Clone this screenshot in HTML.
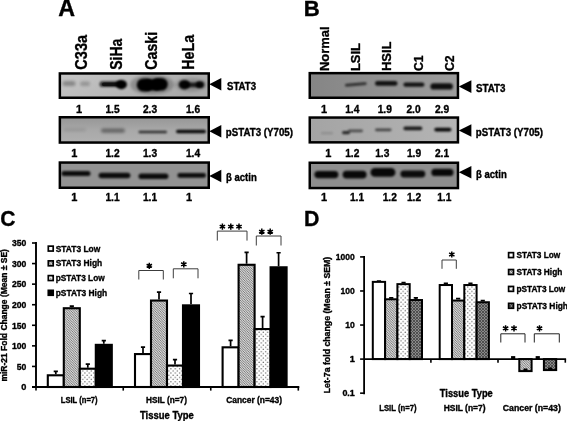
<!DOCTYPE html>
<html><head><meta charset="utf-8"><title>Figure</title>
<style>html,body{margin:0;padding:0;background:#fff;}body{width:567px;height:421px;overflow:hidden;}svg{display:block;filter:grayscale(1);}text{font-family:"Liberation Sans",sans-serif;stroke:#000;stroke-width:0.35px;stroke-linejoin:round;}</style>
</head><body>
<svg width="567" height="421" viewBox="0 0 567 421">
<defs>
<filter id="b1" x="-30%" y="-100%" width="160%" height="300%"><feGaussianBlur stdDeviation="1.25"/></filter>
<filter id="b2" x="-30%" y="-100%" width="160%" height="300%"><feGaussianBlur stdDeviation="1.6"/></filter>
<filter id="b0" x="-30%" y="-100%" width="160%" height="300%"><feGaussianBlur stdDeviation="0.7"/></filter>
<pattern id="hatch" width="2.4" height="2.4" patternUnits="userSpaceOnUse"><rect width="2.4" height="2.4" fill="#d8d8d8"/><path d="M-1,-1 L3.4,3.4 M-1,1.4 L1,3.4 M1.4,-1 L3.4,1" stroke="#5a5a5a" stroke-width="0.75"/></pattern>
<pattern id="dots" width="4.3" height="4.3" patternUnits="userSpaceOnUse"><rect width="4.3" height="4.3" fill="#fff"/><circle cx="1.1" cy="1.1" r="0.72" fill="#6a6a6a"/><circle cx="3.25" cy="3.25" r="0.72" fill="#6a6a6a"/></pattern>
<pattern id="dark" width="3" height="3" patternUnits="userSpaceOnUse"><rect width="3" height="3" fill="#8a8a8a"/><path d="M-1,-1 L4,4 M-1,2 L1,4 M2,-1 L4,1 M4,-1 L-1,4" stroke="#4a4a4a" stroke-width="0.9"/></pattern>
<linearGradient id="gA1" x1="0" y1="0" x2="1" y2="0.3"><stop offset="0" stop-color="#c6c6c6"/><stop offset="0.6" stop-color="#b6b6b6"/><stop offset="1" stop-color="#a8a8a8"/></linearGradient>
<linearGradient id="gA2" x1="0" y1="0" x2="0" y2="1"><stop offset="0" stop-color="#969696"/><stop offset="0.5" stop-color="#a8a8a8"/><stop offset="1" stop-color="#b0b0b0"/></linearGradient>
<linearGradient id="gB1" x1="0" y1="0" x2="1" y2="0"><stop offset="0" stop-color="#858585"/><stop offset="0.55" stop-color="#929292"/><stop offset="1" stop-color="#9c9c9c"/></linearGradient>
<linearGradient id="gB2" x1="0" y1="0" x2="1" y2="0"><stop offset="0" stop-color="#a4a4a4"/><stop offset="1" stop-color="#b4b4b4"/></linearGradient>
</defs>
<rect width="567" height="421" fill="#fff"/>
<text x="58.3" y="15.9" font-size="23" font-weight="bold" textLength="16.8" lengthAdjust="spacingAndGlyphs" fill="#000" stroke="#000" stroke-width="0.7">A</text>
<text x="303.8" y="15.9" font-size="22.3" font-weight="bold" textLength="16" lengthAdjust="spacingAndGlyphs" fill="#000" stroke="#000" stroke-width="0.7">B</text>
<text x="0.2" y="226.1" font-size="22.4" font-weight="bold" textLength="15.2" lengthAdjust="spacingAndGlyphs" fill="#000" stroke="#000" stroke-width="0.7">C</text>
<text x="303.9" y="225.8" font-size="22.2" font-weight="bold" textLength="15.4" lengthAdjust="spacingAndGlyphs" fill="#000" stroke="#000" stroke-width="0.7">D</text>
<clipPath id="c58_72"><rect x="59.85" y="73.45" width="148.9" height="24.299999999999997"/></clipPath>
<rect x="59.85" y="73.45" width="148.9" height="24.299999999999997" fill="url(#gA1)"/>
<g clip-path="url(#c58_72)">
<rect x="62.5" y="81.1" width="13.0" height="5.0" rx="2.5" fill="#000" opacity="0.3" filter="url(#b2)"/>
<rect x="80" y="81.6" width="10" height="4.4" rx="2.2" fill="#000" opacity="0.22" filter="url(#b2)"/>
<rect x="99.5" y="81.3" width="23.5" height="5.8" rx="2.9" fill="#000" opacity="0.72" filter="url(#b1)"/>
<rect x="102" y="82.60000000000001" width="18" height="3.6" rx="1.8" fill="#000" opacity="0.65" filter="url(#b0)"/>
<ellipse cx="121.4" cy="84.6" rx="5.6" ry="4.6" fill="#000" opacity="1" filter="url(#b1)"/>
<ellipse cx="152" cy="84.6" rx="22" ry="10" fill="#000" opacity="0.22" filter="url(#b2)"/>
<rect x="136.7" y="78.4" width="16.30000000000001" height="13" rx="6.5" fill="#000" opacity="1" filter="url(#b1)"/>
<rect x="151.5" y="78.0" width="16.30000000000001" height="12.6" rx="6.3" fill="#000" opacity="1" filter="url(#b1)"/>
<rect x="143" y="79.2" width="19" height="11.2" rx="5.6" fill="#000" opacity="1" filter="url(#b1)"/>
<ellipse cx="191" cy="84.8" rx="16" ry="7" fill="#000" opacity="0.15" filter="url(#b2)"/>
<ellipse cx="184.4" cy="84.7" rx="5.7" ry="4.8" fill="#000" opacity="0.97" filter="url(#b1)"/>
<rect x="185" y="82.60000000000001" width="17" height="4.6" rx="2.3" fill="#000" opacity="0.8" filter="url(#b1)"/>
<ellipse cx="200" cy="84.7" rx="4.2" ry="3.4" fill="#000" opacity="0.92" filter="url(#b1)"/>
</g>
<rect x="59.85" y="73.45" width="148.9" height="24.299999999999997" fill="none" stroke="#000" stroke-width="2.5"/>
<clipPath id="c58_116"><rect x="59.85" y="117.25" width="148.9" height="25.30000000000001"/></clipPath>
<rect x="59.85" y="117.25" width="148.9" height="25.30000000000001" fill="url(#gA2)"/>
<g clip-path="url(#c58_116)">
<rect x="63.5" y="128.4" width="22.5" height="2.8" rx="1.4" fill="#000" opacity="0.11" filter="url(#b2)"/>
<rect x="101" y="128.4" width="24" height="4.4" rx="2.2" fill="#000" opacity="0.4" filter="url(#b2)"/>
<rect x="138.5" y="130.7" width="28.5" height="2.6" rx="1.3" fill="#000" opacity="0.72" filter="url(#b1)"/>
<rect x="176" y="129.7" width="30" height="3.6" rx="1.8" fill="#000" opacity="0.95" filter="url(#b1)"/>
</g>
<rect x="59.85" y="117.25" width="148.9" height="25.30000000000001" fill="none" stroke="#000" stroke-width="2.5"/>
<clipPath id="c58_161"><rect x="59.85" y="162.55" width="148.9" height="25.19999999999999"/></clipPath>
<rect x="59.85" y="162.55" width="148.9" height="25.19999999999999" fill="#929292"/>
<g clip-path="url(#c58_161)">
<rect x="61.4" y="170.9" width="29.1" height="5.0" rx="2.5" fill="#000" opacity="0.92" filter="url(#b1)"/>
<rect x="98.6" y="172.7" width="31.80000000000001" height="5.6" rx="2.8" fill="#000" opacity="0.92" filter="url(#b1)"/>
<rect x="138.5" y="173.5" width="29.900000000000006" height="5.6" rx="2.8" fill="#000" opacity="0.92" filter="url(#b1)"/>
<rect x="177.4" y="173.1" width="28.599999999999994" height="4.6" rx="2.3" fill="#000" opacity="0.92" filter="url(#b1)"/>
</g>
<rect x="59.85" y="162.55" width="148.9" height="25.19999999999999" fill="none" stroke="#000" stroke-width="2.5"/>
<path d="M209.3,84.3 L221.3,78.0 L221.3,90.6 Z" fill="#000"/>
<path d="M209.3,131.2 L221.3,124.89999999999999 L221.3,137.5 Z" fill="#000"/>
<path d="M209.3,176 L221.3,169.7 L221.3,182.3 Z" fill="#000"/>
<text transform="translate(87.3,69.7) rotate(-90)" font-size="15.8" font-weight="bold" textLength="34.8" lengthAdjust="spacingAndGlyphs" stroke-width="0.5">C33a</text>
<text transform="translate(122.3,69.7) rotate(-90)" font-size="15.8" font-weight="bold" textLength="31.0" lengthAdjust="spacingAndGlyphs" stroke-width="0.5">SiHa</text>
<text transform="translate(157.0,69.7) rotate(-90)" font-size="15.8" font-weight="bold" textLength="37.8" lengthAdjust="spacingAndGlyphs" stroke-width="0.5">Caski</text>
<text transform="translate(194.3,69.7) rotate(-90)" font-size="15.8" font-weight="bold" textLength="34.8" lengthAdjust="spacingAndGlyphs" stroke-width="0.5">HeLa</text>
<text x="227" y="89.7" font-size="10" font-weight="bold" textLength="29" lengthAdjust="spacingAndGlyphs" fill="#000" >STAT3</text>
<text x="225.8" y="136.3" font-size="10" font-weight="bold" textLength="67.2" lengthAdjust="spacingAndGlyphs" fill="#000" >pSTAT3 (Y705)</text>
<text x="226" y="181.1" font-size="10" font-weight="bold" textLength="30.8" lengthAdjust="spacingAndGlyphs" fill="#000" >&#946; actin</text>
<text x="79" y="113" font-size="11" font-weight="bold" text-anchor="middle" fill="#000" stroke-width="0.55">1</text>
<text x="112.5" y="113" font-size="11" font-weight="bold" text-anchor="middle" textLength="14.2" lengthAdjust="spacingAndGlyphs" fill="#000" stroke-width="0.55">1.5</text>
<text x="150" y="113" font-size="11" font-weight="bold" text-anchor="middle" textLength="14.2" lengthAdjust="spacingAndGlyphs" fill="#000" stroke-width="0.55">2.3</text>
<text x="193" y="113" font-size="11" font-weight="bold" text-anchor="middle" textLength="14.2" lengthAdjust="spacingAndGlyphs" fill="#000" stroke-width="0.55">1.6</text>
<text x="74.3" y="157.2" font-size="11" font-weight="bold" text-anchor="middle" fill="#000" stroke-width="0.55">1</text>
<text x="112.5" y="157.2" font-size="11" font-weight="bold" text-anchor="middle" textLength="14.2" lengthAdjust="spacingAndGlyphs" fill="#000" stroke-width="0.55">1.2</text>
<text x="150" y="157.2" font-size="11" font-weight="bold" text-anchor="middle" textLength="14.2" lengthAdjust="spacingAndGlyphs" fill="#000" stroke-width="0.55">1.3</text>
<text x="193" y="157.2" font-size="11" font-weight="bold" text-anchor="middle" textLength="14.2" lengthAdjust="spacingAndGlyphs" fill="#000" stroke-width="0.55">1.4</text>
<text x="74.3" y="201" font-size="11" font-weight="bold" text-anchor="middle" fill="#000" stroke-width="0.55">1</text>
<text x="112.5" y="201" font-size="11" font-weight="bold" text-anchor="middle" textLength="14.2" lengthAdjust="spacingAndGlyphs" fill="#000" stroke-width="0.55">1.1</text>
<text x="150" y="201" font-size="11" font-weight="bold" text-anchor="middle" textLength="14.2" lengthAdjust="spacingAndGlyphs" fill="#000" stroke-width="0.55">1.1</text>
<text x="189" y="201" font-size="11" font-weight="bold" text-anchor="middle" fill="#000" stroke-width="0.55">1</text>
<clipPath id="c308_71"><rect x="309.75" y="73.15" width="148.2" height="24.599999999999994"/></clipPath>
<rect x="309.75" y="73.15" width="148.2" height="24.599999999999994" fill="url(#gB1)"/>
<g clip-path="url(#c308_71)">
<rect x="345" y="83.0" width="21.600000000000023" height="2.8" rx="1.4" fill="#000" opacity="0.7" filter="url(#b1)" transform="rotate(-5 355.8 84.4)"/>
<rect x="375" y="81.0" width="22.5" height="4.8" rx="2.4" fill="#000" opacity="0.88" filter="url(#b1)"/>
<rect x="403.4" y="82.39999999999999" width="21.0" height="4.4" rx="2.2" fill="#000" opacity="0.88" filter="url(#b1)"/>
<rect x="430.4" y="83.2" width="22.5" height="6.4" rx="3.2" fill="#000" opacity="0.9" filter="url(#b1)"/>
</g>
<rect x="309.75" y="73.15" width="148.2" height="24.599999999999994" fill="none" stroke="#000" stroke-width="2.5"/>
<clipPath id="c308_116"><rect x="309.75" y="117.55" width="148.2" height="24.799999999999997"/></clipPath>
<rect x="309.75" y="117.55" width="148.2" height="24.799999999999997" fill="url(#gB2)"/>
<g clip-path="url(#c308_116)">
<rect x="321" y="132.1" width="12" height="2.2" rx="1.1" fill="#000" opacity="0.14" filter="url(#b1)"/>
<rect x="342" y="131.0" width="8" height="3.2" rx="1.6" fill="#000" opacity="0.75" filter="url(#b1)"/>
<rect x="348" y="129.4" width="15" height="2.8" rx="1.4" fill="#000" opacity="0.55" filter="url(#b1)"/>
<rect x="375" y="128.4" width="16.5" height="2.8" rx="1.4" fill="#000" opacity="0.6" filter="url(#b1)"/>
<rect x="403.4" y="126.60000000000001" width="18.900000000000034" height="3.6" rx="1.8" fill="#000" opacity="0.85" filter="url(#b1)"/>
<rect x="434.3" y="127.69999999999999" width="17.099999999999966" height="3.8" rx="1.9" fill="#000" opacity="0.95" filter="url(#b1)"/>
</g>
<rect x="309.75" y="117.55" width="148.2" height="24.799999999999997" fill="none" stroke="#000" stroke-width="2.5"/>
<clipPath id="c308_161"><rect x="309.75" y="162.75" width="148.2" height="25.30000000000001"/></clipPath>
<rect x="309.75" y="162.75" width="148.2" height="25.30000000000001" fill="#8e8e8e"/>
<g clip-path="url(#c308_161)">
<rect x="314.4" y="171.0" width="24.0" height="7.2" rx="3.6" fill="#000" opacity="0.94" filter="url(#b1)"/>
<rect x="342.6" y="170.7" width="24.0" height="7.8" rx="3.9" fill="#000" opacity="0.94" filter="url(#b1)"/>
<rect x="370.5" y="168.0" width="24.899999999999977" height="8.8" rx="4.4" fill="#000" opacity="0.94" filter="url(#b1)"/>
<rect x="400.4" y="170.6" width="24.900000000000034" height="6.8" rx="3.4" fill="#000" opacity="0.92" filter="url(#b1)"/>
<rect x="431.3" y="168.8" width="22.19999999999999" height="7.2" rx="3.6" fill="#000" opacity="0.94" filter="url(#b1)"/>
</g>
<rect x="309.75" y="162.75" width="148.2" height="25.30000000000001" fill="none" stroke="#000" stroke-width="2.5"/>
<path d="M458.8,86.6 L471.40000000000003,80.3 L471.40000000000003,92.89999999999999 Z" fill="#000"/>
<path d="M458.8,130.5 L471.40000000000003,124.2 L471.40000000000003,136.8 Z" fill="#000"/>
<path d="M458.8,172.3 L471.40000000000003,166.0 L471.40000000000003,178.60000000000002 Z" fill="#000"/>
<text transform="translate(329.0,71.1) rotate(-90)" font-size="13.7" font-weight="bold" textLength="44.6" lengthAdjust="spacingAndGlyphs" stroke-width="0.55">Normal</text>
<text transform="translate(360.3,71.1) rotate(-90)" font-size="13.7" font-weight="bold" textLength="28.0" lengthAdjust="spacingAndGlyphs" stroke-width="0.55">LSIL</text>
<text transform="translate(391.2,71.1) rotate(-90)" font-size="13.7" font-weight="bold" textLength="29.6" lengthAdjust="spacingAndGlyphs" stroke-width="0.55">HSIL</text>
<text transform="translate(422.6,71.1) rotate(-90)" font-size="13.7" font-weight="bold" textLength="15.6" lengthAdjust="spacingAndGlyphs" stroke-width="0.55">C1</text>
<text transform="translate(454.0,71.1) rotate(-90)" font-size="13.7" font-weight="bold" textLength="15.6" lengthAdjust="spacingAndGlyphs" stroke-width="0.55">C2</text>
<text x="476" y="91.8" font-size="10" font-weight="bold" textLength="29.5" lengthAdjust="spacingAndGlyphs" fill="#000" >STAT3</text>
<text x="475.8" y="136.3" font-size="10" font-weight="bold" textLength="67.2" lengthAdjust="spacingAndGlyphs" fill="#000" >pSTAT3 (Y705)</text>
<text x="476" y="177.5" font-size="10" font-weight="bold" textLength="30.8" lengthAdjust="spacingAndGlyphs" fill="#000" >&#946; actin</text>
<text x="324" y="113" font-size="11" font-weight="bold" text-anchor="middle" fill="#000" stroke-width="0.55">1</text>
<text x="352.3" y="113" font-size="11" font-weight="bold" text-anchor="middle" textLength="14.2" lengthAdjust="spacingAndGlyphs" fill="#000" stroke-width="0.55">1.4</text>
<text x="384.8" y="113" font-size="11" font-weight="bold" text-anchor="middle" textLength="14.2" lengthAdjust="spacingAndGlyphs" fill="#000" stroke-width="0.55">1.9</text>
<text x="413.5" y="113" font-size="11" font-weight="bold" text-anchor="middle" textLength="14.2" lengthAdjust="spacingAndGlyphs" fill="#000" stroke-width="0.55">2.0</text>
<text x="442" y="113" font-size="11" font-weight="bold" text-anchor="middle" textLength="14.2" lengthAdjust="spacingAndGlyphs" fill="#000" stroke-width="0.55">2.9</text>
<text x="328.3" y="157.2" font-size="11" font-weight="bold" text-anchor="middle" fill="#000" stroke-width="0.55">1</text>
<text x="352.3" y="157.2" font-size="11" font-weight="bold" text-anchor="middle" textLength="14.2" lengthAdjust="spacingAndGlyphs" fill="#000" stroke-width="0.55">1.2</text>
<text x="382.3" y="157.2" font-size="11" font-weight="bold" text-anchor="middle" textLength="14.2" lengthAdjust="spacingAndGlyphs" fill="#000" stroke-width="0.55">1.3</text>
<text x="414" y="157.2" font-size="11" font-weight="bold" text-anchor="middle" textLength="14.2" lengthAdjust="spacingAndGlyphs" fill="#000" stroke-width="0.55">1.9</text>
<text x="442" y="157.2" font-size="11" font-weight="bold" text-anchor="middle" textLength="14.2" lengthAdjust="spacingAndGlyphs" fill="#000" stroke-width="0.55">2.1</text>
<text x="324" y="201" font-size="11" font-weight="bold" text-anchor="middle" fill="#000" stroke-width="0.55">1</text>
<text x="357" y="201" font-size="11" font-weight="bold" text-anchor="middle" textLength="14.2" lengthAdjust="spacingAndGlyphs" fill="#000" stroke-width="0.55">1.1</text>
<text x="389.8" y="201" font-size="11" font-weight="bold" text-anchor="middle" textLength="14.2" lengthAdjust="spacingAndGlyphs" fill="#000" stroke-width="0.55">1.2</text>
<text x="414" y="201" font-size="11" font-weight="bold" text-anchor="middle" textLength="14.2" lengthAdjust="spacingAndGlyphs" fill="#000" stroke-width="0.55">1.2</text>
<text x="444.3" y="201" font-size="11" font-weight="bold" text-anchor="middle" textLength="14.2" lengthAdjust="spacingAndGlyphs" fill="#000" stroke-width="0.55">1.1</text>
<path d="M55.8,374.24571428571426 L55.8,371.4428571428571 M53.699999999999996,371.4428571428571 L57.9,371.4428571428571" stroke="#000" stroke-width="1.7" fill="none"/>
<rect x="47.8" y="375.29571428571427" width="16.0" height="11.704285714285742" fill="#fff" stroke="#000" stroke-width="2.1"/>
<path d="M71.8,307.18285714285713 L71.8,306.02571428571423 M69.7,306.02571428571423 L73.89999999999999,306.02571428571423" stroke="#000" stroke-width="1.7" fill="none"/>
<rect x="63.8" y="308.23285714285714" width="16.0" height="78.76714285714287" fill="url(#hatch)" stroke="#000" stroke-width="2.1"/>
<path d="M87.8,367.66285714285715 L87.8,364.03714285714284 M85.7,364.03714285714284 L89.89999999999999,364.03714285714284" stroke="#000" stroke-width="1.7" fill="none"/>
<rect x="79.8" y="368.71285714285716" width="16.0" height="18.28714285714285" fill="url(#dots)" stroke="#000" stroke-width="2.1"/>
<path d="M103.8,343.8 L103.8,340.5857142857143 M101.7,340.5857142857143 L105.89999999999999,340.5857142857143" stroke="#000" stroke-width="1.7" fill="none"/>
<rect x="95.8" y="344.85" width="16.0" height="42.14999999999999" fill="#000" stroke="#000" stroke-width="2.1"/>
<path d="M143.0,353.016 L143.0,347.12742857142854 M140.9,347.12742857142854 L145.1,347.12742857142854" stroke="#000" stroke-width="1.7" fill="none"/>
<rect x="135.0" y="354.06600000000003" width="16.0" height="32.93399999999998" fill="#fff" stroke="#000" stroke-width="2.1"/>
<path d="M159.0,299.48914285714284 L159.0,292.1605714285714 M156.9,292.1605714285714 L161.1,292.1605714285714" stroke="#000" stroke-width="1.7" fill="none"/>
<rect x="151.0" y="300.53914285714285" width="16.0" height="86.46085714285717" fill="url(#hatch)" stroke="#000" stroke-width="2.1"/>
<path d="M175.0,364.49485714285714 L175.0,359.63485714285713 M172.9,359.63485714285713 L177.1,359.63485714285713" stroke="#000" stroke-width="1.7" fill="none"/>
<rect x="167.0" y="365.54485714285715" width="16.0" height="21.455142857142857" fill="url(#dots)" stroke="#000" stroke-width="2.1"/>
<path d="M191.0,304.30285714285714 L191.0,293.47714285714284 M188.9,293.47714285714284 L193.1,293.47714285714284" stroke="#000" stroke-width="1.7" fill="none"/>
<rect x="183.0" y="305.35285714285715" width="16.0" height="81.64714285714287" fill="#000" stroke="#000" stroke-width="2.1"/>
<path d="M230.6,346.2685714285714 L230.6,340.38 M228.5,340.38 L232.7,340.38" stroke="#000" stroke-width="1.7" fill="none"/>
<rect x="222.6" y="347.31857142857143" width="16.0" height="39.68142857142858" fill="#fff" stroke="#000" stroke-width="2.1"/>
<path d="M246.6,263.736 L246.6,252.29314285714287 M244.5,252.29314285714287 L248.7,252.29314285714287" stroke="#000" stroke-width="1.7" fill="none"/>
<rect x="238.6" y="264.786" width="16.0" height="122.21400000000001" fill="url(#hatch)" stroke="#000" stroke-width="2.1"/>
<path d="M262.6,328.00114285714284 L262.6,316.5582857142857 M260.5,316.5582857142857 L264.70000000000005,316.5582857142857" stroke="#000" stroke-width="1.7" fill="none"/>
<rect x="254.6" y="329.05114285714285" width="16.0" height="57.948857142857165" fill="url(#dots)" stroke="#000" stroke-width="2.1"/>
<path d="M278.6,266.24571428571426 L278.6,252.74571428571429 M276.5,252.74571428571429 L280.70000000000005,252.74571428571429" stroke="#000" stroke-width="1.7" fill="none"/>
<rect x="270.6" y="267.29571428571427" width="16.0" height="119.70428571428575" fill="#000" stroke="#000" stroke-width="2.1"/>
<path d="M36.0,242.0 L36.0,387.0 M32.0,387.0 L299.3,387.0" stroke="#000" stroke-width="1.9" fill="none"/>
<path d="M32.0,387.0 L36.0,387.0" stroke="#000" stroke-width="1.6"/>
<text x="26.4" y="390.3" font-size="9.2" font-weight="bold" text-anchor="end" fill="#000" >0</text>
<path d="M32.0,366.42857142857144 L36.0,366.42857142857144" stroke="#000" stroke-width="1.6"/>
<text x="26.4" y="369.72857142857146" font-size="9.2" font-weight="bold" text-anchor="end" textLength="9.6" lengthAdjust="spacingAndGlyphs" fill="#000" >50</text>
<path d="M32.0,345.8571428571429 L36.0,345.8571428571429" stroke="#000" stroke-width="1.6"/>
<text x="26.4" y="349.1571428571429" font-size="9.2" font-weight="bold" text-anchor="end" textLength="14.4" lengthAdjust="spacingAndGlyphs" fill="#000" >100</text>
<path d="M32.0,325.2857142857143 L36.0,325.2857142857143" stroke="#000" stroke-width="1.6"/>
<text x="26.4" y="328.5857142857143" font-size="9.2" font-weight="bold" text-anchor="end" textLength="14.4" lengthAdjust="spacingAndGlyphs" fill="#000" >150</text>
<path d="M32.0,304.7142857142857 L36.0,304.7142857142857" stroke="#000" stroke-width="1.6"/>
<text x="26.4" y="308.01428571428573" font-size="9.2" font-weight="bold" text-anchor="end" textLength="14.4" lengthAdjust="spacingAndGlyphs" fill="#000" >200</text>
<path d="M32.0,284.1428571428571 L36.0,284.1428571428571" stroke="#000" stroke-width="1.6"/>
<text x="26.4" y="287.4428571428571" font-size="9.2" font-weight="bold" text-anchor="end" textLength="14.4" lengthAdjust="spacingAndGlyphs" fill="#000" >250</text>
<path d="M32.0,263.57142857142856 L36.0,263.57142857142856" stroke="#000" stroke-width="1.6"/>
<text x="26.4" y="266.87142857142857" font-size="9.2" font-weight="bold" text-anchor="end" textLength="14.4" lengthAdjust="spacingAndGlyphs" fill="#000" >300</text>
<path d="M32.0,243.0 L36.0,243.0" stroke="#000" stroke-width="1.6"/>
<text x="26.4" y="246.3" font-size="9.2" font-weight="bold" text-anchor="end" textLength="14.4" lengthAdjust="spacingAndGlyphs" fill="#000" >350</text>
<path d="M36,387.0 L36,390.6" stroke="#000" stroke-width="1.6"/>
<path d="M123.25,387.0 L123.25,390.6" stroke="#000" stroke-width="1.6"/>
<path d="M210.75,387.0 L210.75,390.6" stroke="#000" stroke-width="1.6"/>
<path d="M298.3,387.0 L298.3,390.6" stroke="#000" stroke-width="1.6"/>
<text x="79.2" y="403.0" font-size="8.6" font-weight="bold" text-anchor="middle" textLength="36.8" lengthAdjust="spacingAndGlyphs" fill="#000" >LSIL (n=7)</text>
<text x="166.5" y="403.0" font-size="8.6" font-weight="bold" text-anchor="middle" textLength="40.8" lengthAdjust="spacingAndGlyphs" fill="#000" >HSIL (n=7)</text>
<text x="254.1" y="403.0" font-size="8.6" font-weight="bold" text-anchor="middle" textLength="55.8" lengthAdjust="spacingAndGlyphs" fill="#000" >Cancer (n=43)</text>
<text x="166.9" y="418.6" font-size="10" font-weight="bold" text-anchor="middle" textLength="53.8" lengthAdjust="spacingAndGlyphs" fill="#000" >Tissue Type</text>
<text transform="translate(7.4,315.3) rotate(-90)" text-anchor="middle" font-size="8.2" font-weight="bold" textLength="132.5" lengthAdjust="spacingAndGlyphs">miR-21 Fold Change (Mean &#177; SE)</text>
<rect x="48.3" y="246.15" width="4.9" height="4.9" fill="#fff" stroke="#000" stroke-width="1.7"/>
<text x="55.7" y="251.60000000000002" font-size="9.2" font-weight="bold" textLength="44.5" lengthAdjust="spacingAndGlyphs" fill="#000" stroke-width="0.5">STAT3 Low</text>
<rect x="48.3" y="260.88000000000005" width="4.9" height="4.9" fill="url(#hatch)" stroke="#000" stroke-width="1.7"/>
<text x="55.7" y="266.33000000000004" font-size="9.2" font-weight="bold" textLength="46.5" lengthAdjust="spacingAndGlyphs" fill="#000" stroke-width="0.5">STAT3 High</text>
<rect x="48.3" y="275.61" width="4.9" height="4.9" fill="url(#dots)" stroke="#000" stroke-width="1.7"/>
<text x="55.7" y="281.06" font-size="9.2" font-weight="bold" textLength="49" lengthAdjust="spacingAndGlyphs" fill="#000" stroke-width="0.5">pSTAT3 Low</text>
<rect x="48.3" y="290.34000000000003" width="4.9" height="4.9" fill="#000" stroke="#000" stroke-width="1.7"/>
<text x="55.7" y="295.79" font-size="9.2" font-weight="bold" textLength="51.5" lengthAdjust="spacingAndGlyphs" fill="#000" stroke-width="0.5">pSTAT3 High</text>
<path d="M138.8,279.5 L138.8,270.5 L163.3,270.5 L163.3,279.5" stroke="#3c3c3c" stroke-width="1" fill="none"/>
<path d="M149.30,262.70 L149.30,268.90 M146.62,264.25 L151.98,267.35 M151.98,264.25 L146.62,267.35 " stroke="#000" stroke-width="1.5" fill="none"/>
<circle cx="149.3" cy="265.8" r="1.0" fill="#000"/>
<path d="M173.3,278.3 L173.3,268.8 L198.0,268.8 L198.0,278.3" stroke="#3c3c3c" stroke-width="1" fill="none"/>
<path d="M183.80,261.20 L183.80,267.40 M181.12,262.75 L186.48,265.85 M186.48,262.75 L181.12,265.85 " stroke="#000" stroke-width="1.5" fill="none"/>
<circle cx="183.8" cy="264.3" r="1.0" fill="#000"/>
<path d="M217.3,240.6 L217.3,231.1 L247.0,231.1 L247.0,240.6" stroke="#3c3c3c" stroke-width="1" fill="none"/>
<path d="M222.40,223.50 L222.40,229.70 M219.72,225.05 L225.08,228.15 M225.08,225.05 L219.72,228.15 " stroke="#000" stroke-width="1.5" fill="none"/>
<circle cx="222.4" cy="226.6" r="1.0" fill="#000"/>
<path d="M230.80,223.50 L230.80,229.70 M228.12,225.05 L233.48,228.15 M233.48,225.05 L228.12,228.15 " stroke="#000" stroke-width="1.5" fill="none"/>
<circle cx="230.8" cy="226.6" r="1.0" fill="#000"/>
<path d="M239.00,223.50 L239.00,229.70 M236.32,225.05 L241.68,228.15 M241.68,225.05 L236.32,228.15 " stroke="#000" stroke-width="1.5" fill="none"/>
<circle cx="239.0" cy="226.6" r="1.0" fill="#000"/>
<path d="M256.3,245.5 L256.3,236.0 L281.0,236.0 L281.0,245.5" stroke="#3c3c3c" stroke-width="1" fill="none"/>
<path d="M261.80,228.60 L261.80,234.80 M259.12,230.15 L264.48,233.25 M264.48,230.15 L259.12,233.25 " stroke="#000" stroke-width="1.5" fill="none"/>
<circle cx="261.8" cy="231.7" r="1.0" fill="#000"/>
<path d="M270.20,228.60 L270.20,234.80 M267.52,230.15 L272.88,233.25 M272.88,230.15 L267.52,233.25 " stroke="#000" stroke-width="1.5" fill="none"/>
<circle cx="270.2" cy="231.7" r="1.0" fill="#000"/>
<path d="M378.95,280.8755836196923 L378.95,281.18968247422663 M376.84999999999997,281.18968247422663 L381.05,281.18968247422663" stroke="#000" stroke-width="1.7" fill="none"/>
<rect x="372.8" y="281.8755836196923" width="12.3" height="77.22441638030773" fill="#fff" stroke="#000" stroke-width="2.0"/>
<path d="M391.25,298.2916658195333 L391.25,297.80389222000986 M389.15,297.80389222000986 L393.35,297.80389222000986" stroke="#000" stroke-width="1.7" fill="none"/>
<rect x="385.1" y="299.2916658195333" width="12.3" height="59.808334180466716" fill="url(#hatch)" stroke="#000" stroke-width="2.0"/>
<path d="M403.55,283.130909737856 L403.55,282.70038911993777 M401.45,282.70038911993777 L405.65000000000003,282.70038911993777" stroke="#000" stroke-width="1.7" fill="none"/>
<rect x="397.40000000000003" y="284.130909737856" width="12.3" height="74.96909026214405" fill="url(#dots)" stroke="#000" stroke-width="2.0"/>
<path d="M415.85,299.03764253924635 L415.85,297.80389222000986 M413.75,297.80389222000986 L417.95000000000005,297.80389222000986" stroke="#000" stroke-width="1.7" fill="none"/>
<rect x="409.70000000000005" y="300.03764253924635" width="12.3" height="59.062357460753674" fill="url(#dark)" stroke="#000" stroke-width="2.0"/>
<path d="M445.84999999999997,284.0276733907392 L445.84999999999997,283.35069472135905 M443.74999999999994,283.35069472135905 L447.95,283.35069472135905" stroke="#000" stroke-width="1.7" fill="none"/>
<rect x="439.7" y="285.0276733907392" width="12.3" height="74.07232660926081" fill="#fff" stroke="#000" stroke-width="2.0"/>
<path d="M458.15,299.55671580016883 L458.15,298.714460885611 M456.04999999999995,298.714460885611 L460.25,298.714460885611" stroke="#000" stroke-width="1.7" fill="none"/>
<rect x="452.0" y="300.55671580016883" width="12.3" height="58.54328419983119" fill="url(#hatch)" stroke="#000" stroke-width="2.0"/>
<path d="M470.45,284.0276733907392 L470.45,283.35069472135905 M468.34999999999997,283.35069472135905 L472.55,283.35069472135905" stroke="#000" stroke-width="1.7" fill="none"/>
<rect x="464.3" y="285.0276733907392" width="12.3" height="74.07232660926081" fill="url(#dots)" stroke="#000" stroke-width="2.0"/>
<path d="M482.75,301.2330816523152 L482.75,300.72324679582607 M480.65,300.72324679582607 L484.85,300.72324679582607" stroke="#000" stroke-width="1.7" fill="none"/>
<rect x="476.6" y="302.2330816523152" width="12.3" height="56.866918347684816" fill="url(#dark)" stroke="#000" stroke-width="2.0"/>
<rect x="511.04999999999995" y="356.1" width="4.2" height="3" fill="#000"/>
<rect x="519.3" y="359.1" width="12.3" height="12.009281825986136" fill="url(#hatch)" stroke="#000" stroke-width="2.0"/>
<rect x="523.4499999999999" y="368.50928182598614" width="4" height="3" fill="#000"/>
<rect x="535.65" y="356.1" width="4.2" height="3" fill="#000"/>
<rect x="543.9" y="359.1" width="12.3" height="10.976858025989486" fill="url(#dark)" stroke="#000" stroke-width="2.0"/>
<rect x="548.05" y="367.4768580259895" width="4" height="3" fill="#000"/>
<path d="M364.1,255.92000000000002 L364.1,394.16 M364.1,359.1 L566.1,359.1" stroke="#000" stroke-width="1.8" fill="none"/>
<path d="M360.1,256.92 L364.1,256.92" stroke="#000" stroke-width="1.6"/>
<text x="354.8" y="260.22" font-size="9.2" font-weight="bold" text-anchor="end" textLength="19" lengthAdjust="spacingAndGlyphs" fill="#000" >1000</text>
<path d="M360.1,290.98 L364.1,290.98" stroke="#000" stroke-width="1.6"/>
<text x="354.8" y="294.28000000000003" font-size="9.2" font-weight="bold" text-anchor="end" textLength="14.3" lengthAdjust="spacingAndGlyphs" fill="#000" >100</text>
<path d="M360.1,325.04 L364.1,325.04" stroke="#000" stroke-width="1.6"/>
<text x="354.8" y="328.34000000000003" font-size="9.2" font-weight="bold" text-anchor="end" textLength="9.6" lengthAdjust="spacingAndGlyphs" fill="#000" >10</text>
<path d="M360.1,359.1 L364.1,359.1" stroke="#000" stroke-width="1.6"/>
<text x="354.8" y="362.40000000000003" font-size="9.2" font-weight="bold" text-anchor="end" fill="#000" >1</text>
<path d="M360.1,393.16 L364.1,393.16" stroke="#000" stroke-width="1.6"/>
<text x="354.8" y="396.46000000000004" font-size="9.2" font-weight="bold" text-anchor="end" textLength="12.4" lengthAdjust="spacingAndGlyphs" fill="#000" >0.1</text>
<path d="M430.9,359.1 L430.9,362.70000000000005" stroke="#000" stroke-width="1.6"/>
<path d="M498.0,359.1 L498.0,362.70000000000005" stroke="#000" stroke-width="1.6"/>
<path d="M565.3,359.1 L565.3,362.70000000000005" stroke="#000" stroke-width="1.6"/>
<text x="397.9" y="411.3" font-size="8.6" font-weight="bold" text-anchor="middle" textLength="37.2" lengthAdjust="spacingAndGlyphs" fill="#000" >LSIL (n=7)</text>
<text x="464.6" y="411.3" font-size="8.6" font-weight="bold" text-anchor="middle" textLength="41.8" lengthAdjust="spacingAndGlyphs" fill="#000" >HSIL (n=7)</text>
<text x="531.8" y="411.3" font-size="8.6" font-weight="bold" text-anchor="middle" textLength="58.1" lengthAdjust="spacingAndGlyphs" fill="#000" >Cancer (n=43)</text>
<text x="466.3" y="396.6" font-size="10" font-weight="bold" text-anchor="middle" textLength="53" lengthAdjust="spacingAndGlyphs" fill="#000" >Tissue Type</text>
<text transform="translate(329.9,325.0) rotate(-90)" text-anchor="middle" font-size="8.3" font-weight="bold" textLength="136.5" lengthAdjust="spacingAndGlyphs">Let-7a fold change (Mean &#177; SEM)</text>
<rect x="508.6" y="252.65" width="4.9" height="4.9" fill="#fff" stroke="#000" stroke-width="1.7"/>
<text x="516.5" y="258.1" font-size="9.2" font-weight="bold" textLength="43.8" lengthAdjust="spacingAndGlyphs" fill="#000" stroke-width="0.5">STAT3 Low</text>
<rect x="508.6" y="269.55" width="4.9" height="4.9" fill="url(#hatch)" stroke="#000" stroke-width="1.7"/>
<text x="516.5" y="275.0" font-size="9.2" font-weight="bold" textLength="45.8" lengthAdjust="spacingAndGlyphs" fill="#000" stroke-width="0.5">STAT3 High</text>
<rect x="508.6" y="286.45000000000005" width="4.9" height="4.9" fill="url(#dots)" stroke="#000" stroke-width="1.7"/>
<text x="516.5" y="291.90000000000003" font-size="9.2" font-weight="bold" textLength="48.8" lengthAdjust="spacingAndGlyphs" fill="#000" stroke-width="0.5">pSTAT3 Low</text>
<rect x="508.6" y="303.35" width="4.9" height="4.9" fill="url(#dark)" stroke="#000" stroke-width="1.7"/>
<text x="516.5" y="308.8" font-size="9.2" font-weight="bold" textLength="51.5" lengthAdjust="spacingAndGlyphs" fill="#000" stroke-width="0.5">pSTAT3 High</text>
<path d="M442.0,268.8 L442.0,260.0 L456.3,260.0 L456.3,268.8" stroke="#3c3c3c" stroke-width="1" fill="none"/>
<path d="M451.80,251.40 L451.80,257.60 M449.12,252.95 L454.48,256.05 M454.48,252.95 L449.12,256.05 " stroke="#000" stroke-width="1.5" fill="none"/>
<circle cx="451.8" cy="254.5" r="1.0" fill="#000"/>
<path d="M500.8,342.5 L500.8,333.8 L525.0,333.8 L525.0,342.5" stroke="#222" stroke-width="1" fill="none"/>
<path d="M505.60,325.20 L505.60,331.40 M502.92,326.75 L508.28,329.85 M508.28,326.75 L502.92,329.85 " stroke="#000" stroke-width="1.5" fill="none"/>
<circle cx="505.6" cy="328.3" r="1.0" fill="#000"/>
<path d="M514.00,325.20 L514.00,331.40 M511.32,326.75 L516.68,329.85 M516.68,326.75 L511.32,329.85 " stroke="#000" stroke-width="1.5" fill="none"/>
<circle cx="514.0" cy="328.3" r="1.0" fill="#000"/>
<path d="M534.3,342.5 L534.3,333.8 L559.3,333.8 L559.3,342.5" stroke="#222" stroke-width="1" fill="none"/>
<path d="M539.50,325.20 L539.50,331.40 M536.82,326.75 L542.18,329.85 M542.18,326.75 L536.82,329.85 " stroke="#000" stroke-width="1.5" fill="none"/>
<circle cx="539.5" cy="328.3" r="1.0" fill="#000"/>
</svg>
</body></html>
